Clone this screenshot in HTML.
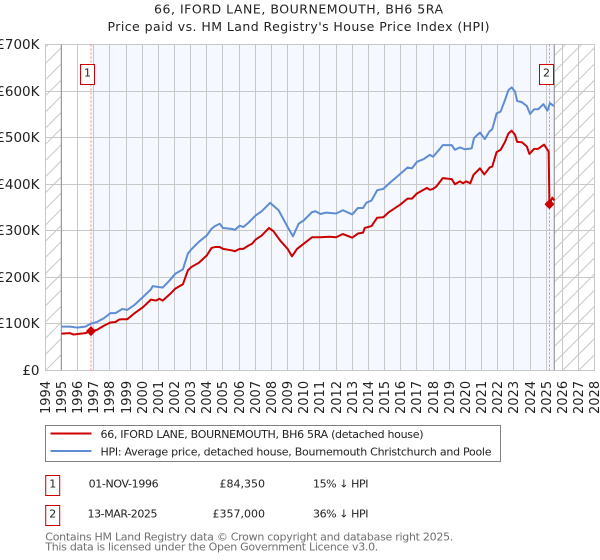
<!DOCTYPE html>
<html>
<head>
<meta charset="utf-8">
<title>66, IFORD LANE, BOURNEMOUTH, BH6 5RA</title>
<style>
html,body{margin:0;padding:0;background:#fff;}
#stage{display:block;width:600px;height:560px;}
text{font-family:"DejaVu Sans","Liberation Sans",sans-serif;fill:#222;}
</style>
</head>
<body>
<svg id="stage" xmlns="http://www.w3.org/2000/svg" width="600" height="560" viewBox="0 0 600 560">
  <text x="298.5" y="13.5" text-anchor="middle" font-size="12.5" textLength="289" lengthAdjust="spacing">66, IFORD LANE, BOURNEMOUTH, BH6 5RA</text>
  <text x="298.5" y="31" text-anchor="middle" font-size="12.5" textLength="382" lengthAdjust="spacing">Price paid vs. HM Land Registry's House Price Index (HPI)</text>
  <g id="plot"></g>
  <g>
    <rect x="45.5" y="425.5" width="455" height="36" fill="#fff" stroke="#808080" stroke-width="1"/>
    <line x1="50.5" x2="91.5" y1="433.5" y2="433.5" stroke="#cc0000" stroke-width="2"/>
    <text x="100.5" y="438" font-size="11" textLength="323" lengthAdjust="spacing">66, IFORD LANE, BOURNEMOUTH, BH6 5RA (detached house)</text>
    <line x1="50.5" x2="91.5" y1="451" y2="451" stroke="#5f8dd3" stroke-width="2"/>
    <text x="100.5" y="455.3" font-size="11" textLength="391" lengthAdjust="spacing">HPI: Average price, detached house, Bournemouth Christchurch and Poole</text>
  </g>
  <g>
    <rect x="45.7" y="475.5" width="14" height="20" fill="#fff" stroke="#cc0000" stroke-width="1"/>
    <text x="52.7" y="487.5" text-anchor="middle" font-size="11">1</text>
    <text x="123.6" y="487.5" text-anchor="middle" font-size="11" textLength="70" lengthAdjust="spacing">01-NOV-1996</text>
    <text x="265" y="487.5" text-anchor="end" font-size="11">£84,350</text>
    <text x="313" y="487.5" font-size="11" textLength="55.5" lengthAdjust="spacing">15% ↓ HPI</text>
  </g>
  <g>
    <rect x="45.7" y="505.5" width="14" height="20" fill="#fff" stroke="#cc0000" stroke-width="1"/>
    <text x="52.7" y="517.5" text-anchor="middle" font-size="11">2</text>
    <text x="122.5" y="517.5" text-anchor="middle" font-size="11" textLength="70" lengthAdjust="spacing">13-MAR-2025</text>
    <text x="265" y="517.5" text-anchor="end" font-size="11">£357,000</text>
    <text x="313" y="517.5" font-size="11" textLength="55.5" lengthAdjust="spacing">36% ↓ HPI</text>
  </g>
  <text x="45.3" y="540.5" font-size="11" style="fill:#707070" textLength="408" lengthAdjust="spacing">Contains HM Land Registry data © Crown copyright and database right 2025.</text>
  <text x="45.3" y="550.5" font-size="11" style="fill:#707070" textLength="333" lengthAdjust="spacing">This data is licensed under the Open Government Licence v3.0.</text>
</svg>
<script>
const yearTicks = [1994,1995,1996,1997,1998,1999,2000,2001,2002,2003,2004,2005,2006,2007,2008,2009,2010,2011,2012,2013,2014,2015,2016,2017,2018,2019,2020,2021,2022,2023,2024,2025,2026,2027,2028];
const valueTicks = [0,100000,200000,300000,400000,500000,600000,700000];
const valueTickLabels = ['£0','£100K','£200K','£300K','£400K','£500K','£600K','£700K'];

const hpiYears = [1995,1995.54,1995.96,1996.48,1996.8,1997.2,1997.63,1998.04,1998.35,1998.77,1999.08,1999.5,2000.06,2000.54,2000.65,2001.06,2001.27,2001.69,2002.06,2002.52,2002.83,2003.04,2003.5,2004,2004.29,2004.5,2004.8,2005,2005.53,2005.74,2006.03,2006.26,2006.6,2007.02,2007.4,2007.92,2008.44,2009,2009.33,2009.68,2009.99,2010.51,2010.72,2011.03,2011.37,2012,2012.42,2013,2013.35,2013.67,2013.87,2014.19,2014.54,2014.92,2015.33,2015.96,2016.42,2016.69,2017,2017.42,2017.8,2018,2018.42,2018.6,2019.15,2019.35,2019.66,2019.97,2020.39,2020.53,2020.9,2021.2,2021.5,2021.66,2021.93,2022.18,2022.45,2022.66,2022.86,2023.07,2023.2,2023.5,2023.8,2024,2024.25,2024.5,2024.83,2025.07,2025.23,2025.48];
const hpiValues = [94,94,92,94,100,104,112,123,123,132,130,140,158,174,181,179,178,193,208,217,251,260,276,290,304,310,315,306,304,302,311,308,318,333,342,360,344,308,288,315,322,340,342,336,339,337,344,335,349,349,360,365,387,390,403,422,436,434,448,454,463,459,476,484,484,474,479,475,477,499,511,497,514,518,552,556,581,602,608,599,579,576,568,551,561,561,572,558,574,568];

const priceYears = [1995,1995.54,1995.75,1995.96,1996.48,1996.83,1997.2,1997.63,1998.04,1998.35,1998.56,1998.77,1999.08,1999.5,2000.06,2000.54,2000.85,2001.06,2001.27,2001.69,2002.06,2002.52,2002.83,2003.04,2003.5,2004,2004.29,2004.5,2004.8,2005,2005.53,2005.74,2006.03,2006.26,2006.57,2006.8,2007.02,2007.4,2007.85,2008.12,2008.54,2009,2009.27,2009.58,2009.99,2010.51,2011.03,2011.58,2012,2012.42,2013,2013.35,2013.67,2013.77,2014.19,2014.54,2014.92,2015.23,2015.96,2016.42,2016.69,2017,2017.62,2017.8,2018,2018.2,2018.6,2019.15,2019.35,2019.66,2019.85,2020.05,2020.3,2020.5,2020.9,2021.17,2021.5,2021.66,2021.93,2022.18,2022.45,2022.66,2022.86,2023.07,2023.2,2023.5,2023.8,2023.96,2024.25,2024.5,2024.87,2025.07,2025.15,2025.2,2025.38,2025.5];
const priceValues = [79,80,77,78,80,84.35,87,96,103,104,109,110,110,122,136,152,150,154,150,163,176,185,215,222,231,247,263,265,265,261,258,256,261,261,268,272,281,290,306,299,279,261,245,261,272,286,286,287,286,293,285,294,296,306,310,328,329,339,356,369,369,380,392,388,390,395,413,411,400,406,402,406,402,420,434,421,436,438,469,474,491,509,515,506,491,490,481,465,476,476,485,474,470,357,371,365];

const saleLabels = ['1','2'];
const saleYears = [1996.83,2025.2];
const saleValues = [84.35,357];
const forecastBoundaryYears = [1995,2025.5];

const X0 = 45.2, Y0 = 370.4, PXYEAR = 16.162, PXK = 0.4655;
const xOf = function (yr) { return X0 + (yr - 1994) * PXYEAR; };
const yOf = function (k) { return Y0 - k * PXK; };
const plot = document.getElementById('plot');
const NS = 'http://www.w3.org/2000/svg';
function mk(tag, attrs) {
  const el = document.createElementNS(NS, tag);
  for (const k in attrs) el.setAttribute(k, attrs[k]);
  plot.appendChild(el);
  return el;
}
const xL = xOf(1994), xR = xOf(2028), yT = yOf(700), yB = yOf(0);
const xA = xOf(forecastBoundaryYears[0]), xB = xOf(forecastBoundaryYears[1]);

// tinted "after first sale" band
const tint = mk('rect', {x: xOf(saleYears[0]) + 0.5, y: yT, width: xB - xOf(saleYears[0]) - 0.5, height: yB - yT, fill: '#f5f8ff'});



// hatched no-data regions
function hatch(x1, x2, name) {
  let c = 12;
  while (c < 1100) {
    let ax = x1, ay = c - x1, bx = x2, by = c - x2;
    if (ay > yB) { ax = c - yB; ay = yB; }
    if (by < yT) { bx = c - yT; by = yT; }
    if (ax < bx) {
      const h = mk('line', {x1: ax, y1: ay, x2: bx, y2: by, stroke: '#c8c8c8', 'stroke-width': 1});
      
      
    }
    c += 16.16;
  }
}
hatch(xL, xA, 'hatch-line-before-data');
hatch(xB, xR, 'hatch-line-after-data');

// grid + ticks
yearTicks.forEach(function (yr) {
  const px = Math.round(xOf(yr) - 0.5) + 0.5;
  const g = mk('line', {x1: px, x2: px, y1: yT, y2: yB, stroke: '#c8c8c8', 'stroke-width': 1});
  
  
  const t = mk('text', {transform: 'translate(' + (px + 4.7) + ',414) rotate(-90)', 'font-size': 13, 'text-anchor': 'start'});
  
  
  t.textContent = String(yr);
});
valueTicks.forEach(function (v, i) {
  const py = Math.round(yOf(v / 1000) - 0.5) + 0.5;
  const g = mk('line', {x1: xL, x2: xR, y1: py, y2: py, stroke: '#c8c8c8', 'stroke-width': 1});
  
  
  const t = mk('text', {x: 39.5, y: py + 4.7, 'font-size': 13.5, 'text-anchor': 'end'});
  
  
  t.textContent = valueTickLabels[i];
});

// data-window boundaries
forecastBoundaryYears.forEach(function (yr) {
  const b = mk('line', {x1: xOf(yr), x2: xOf(yr), y1: yT, y2: yB, stroke: '#9a9a9a', 'stroke-width': 1.2});
  
  
});

// sale guide lines
saleYears.forEach(function (yr) {
  const s = mk('line', {x1: xOf(yr), x2: xOf(yr), y1: yT, y2: yB, stroke: '#ff8080', 'stroke-width': 1, 'stroke-dasharray': '2 2'});
  
  
});

// series
function series(xs, ys, color, name) {
  const pts = xs.map(function (yr, i) { return xOf(yr).toFixed(2) + ',' + yOf(ys[i]).toFixed(2); }).join(' ');
  const p = mk('polyline', {points: pts, fill: 'none', stroke: color, 'stroke-width': 2, 'stroke-linejoin': 'round'});
  
  
}
series(hpiYears, hpiValues, '#5f8dd3', 'hpi-line');
series(priceYears, priceValues, '#cc0000', 'price-line');

// sale markers + badges
saleYears.forEach(function (yr, i) {
  const cx = xOf(yr), cy = yOf(saleValues[i]);
  const r = 4.2;
  const m = mk('polygon', {points: [(cx - r) + ',' + cy, cx + ',' + (cy - r), (cx + r) + ',' + cy, cx + ',' + (cy + r)].join(' '), fill: '#cc0000', stroke: '#cc0000', 'stroke-width': 1.2, 'stroke-linejoin': 'round'});
  
  
  const bx = Math.round(cx - 10.7) + 0.5;
  const box = mk('rect', {x: bx, y: 64.5, width: 14, height: 20, fill: '#fff', stroke: '#cc0000', 'stroke-width': 1});
  
  
  const lab = mk('text', {x: bx + 7, y: 76.5, 'font-size': 11, 'text-anchor': 'middle'});
  
  
  lab.textContent = saleLabels[i];
});
</script>
</body>
</html>
